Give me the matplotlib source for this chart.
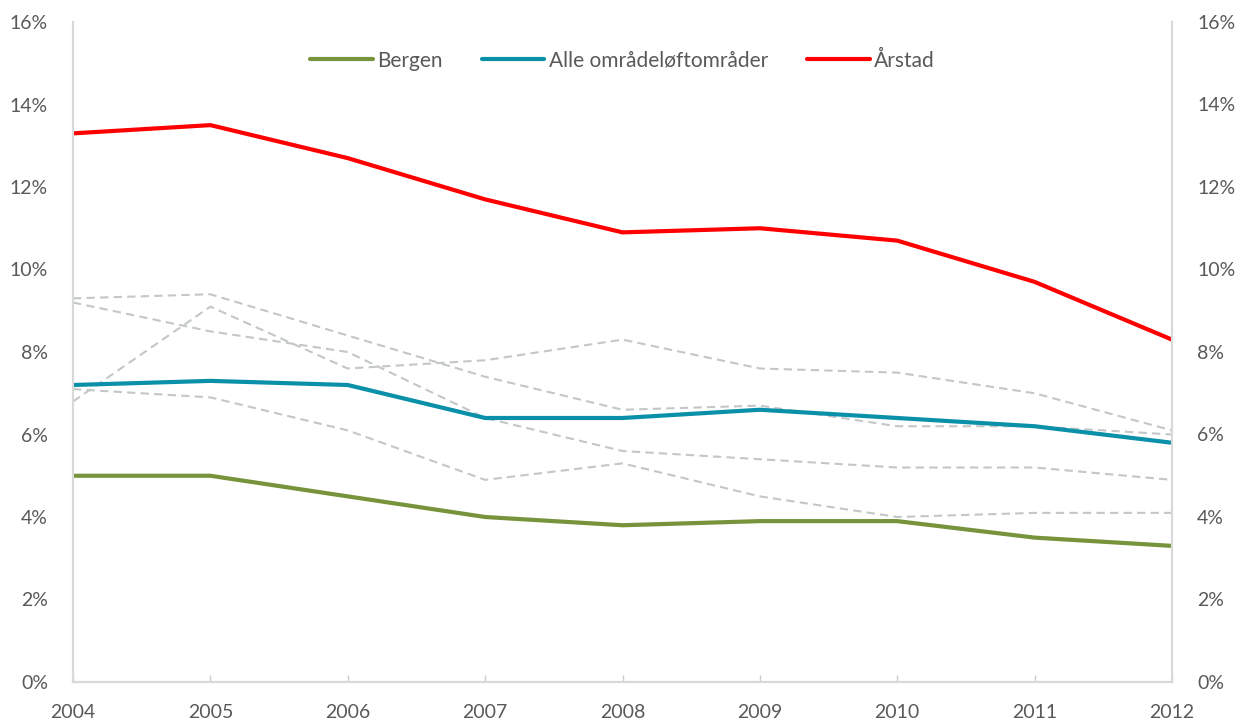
import matplotlib.pyplot as plt
from matplotlib.ticker import FuncFormatter

years = [2004, 2005, 2006, 2007, 2008, 2009, 2010, 2011, 2012]

bergen = [5.0, 5.0, 4.5, 4.0, 3.8, 3.9, 3.9, 3.5, 3.3]
alle = [7.2, 7.3, 7.2, 6.4, 6.4, 6.6, 6.4, 6.2, 5.8]
arstad = [13.3, 13.5, 12.7, 11.7, 10.9, 11.0, 10.7, 9.7, 8.3]

# other areas, drawn as grey dashed lines
other_a = [9.3, 9.4, 8.4, 7.4, 6.6, 6.7, 6.2, 6.2, 6.0]
other_b = [9.2, 8.5, 8.0, 6.4, 5.6, 5.4, 5.2, 5.2, 4.9]
other_c = [6.8, 9.1, 7.6, 7.8, 8.3, 7.6, 7.5, 7.0, 6.1]
other_d = [7.1, 6.9, 6.1, 4.9, 5.3, 4.5, 4.0, 4.1, 4.1]

plt.rcParams['font.family'] = ['Lato', 'DejaVu Sans']
txt = '#595959'
grey = '#C3C7C7'

fig = plt.figure(figsize=(12.47, 7.23), dpi=100)
ax = fig.add_axes([73 / 1247, 41 / 723, 1099 / 1247, 660 / 723])

for other in [other_a, other_b, other_c, other_d]:
    ax.plot(years, other, color=grey, lw=1.5, ls=(0, (4, 2.5)))

ax.plot(years, bergen, color='#77933C', lw=3, label='Bergen', solid_capstyle='round')
ax.plot(years, alle, color='#0A90A8', lw=3, label='Alle områdeløftområder', solid_capstyle='round')
ax.plot(years, arstad, color='#FF0000', lw=3, label='Årstad', solid_capstyle='round')

ax.set_xlim(2004, 2012)
ax.set_ylim(0, 16)
ax.set_xticks(years)
ax.set_yticks(range(0, 17, 2))
pct = FuncFormatter(lambda v, p: f'{v:.0f}%')
ax.yaxis.set_major_formatter(pct)

ax2 = ax.twinx()
ax2.set_ylim(0, 16)
ax2.set_yticks(range(0, 17, 2))
ax2.yaxis.set_major_formatter(pct)

for a in (ax, ax2):
    for s in a.spines.values():
        s.set_color('#D9D9D9')
        s.set_linewidth(1.5)
    a.spines['top'].set_visible(False)
    a.tick_params(axis='y', length=0, labelcolor=txt, labelsize=14, pad=18)
ax.tick_params(axis='x', direction='in', length=5, width=1, color='#C8CFCC',
               labelcolor=txt, labelsize=14, pad=16)
ax.spines['bottom'].set_color('#C8CFCC')

ax.legend(loc='upper center', ncol=3, frameon=False, fontsize=15,
          labelcolor=txt, handlelength=3, columnspacing=1.9, handletextpad=0.2,
          bbox_to_anchor=(0.5, 0.985))

fig.savefig('out.png', dpi=100)
